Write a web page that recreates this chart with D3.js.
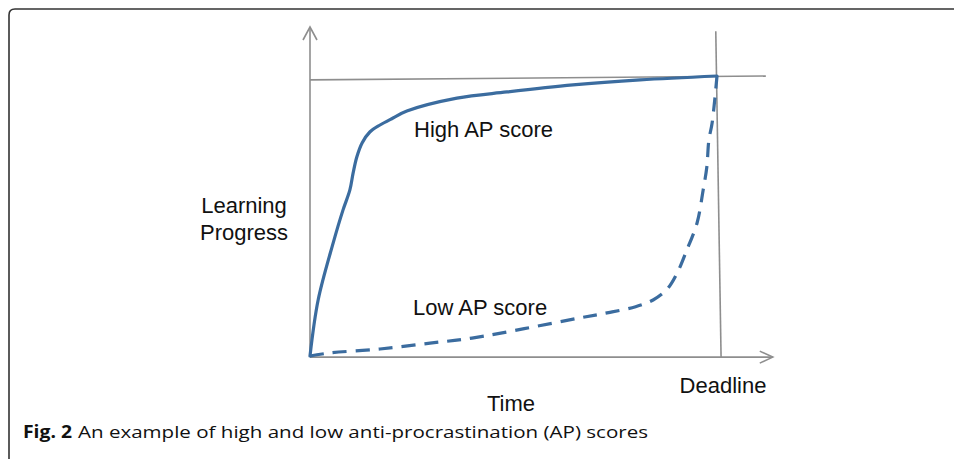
<!DOCTYPE html>
<html>
<head>
<meta charset="utf-8">
<script src="https://cdn.jsdelivr.net/npm/d3@7"></script>
<style>
html,body{margin:0;padding:0;background:#fff;}
svg{display:block;}
</style>
</head>
<body>
<svg id="chart" width="954" height="459"></svg>
<script>
// ---- data (normalized time 0..1 = start..deadline, progress 0..1) ----
const highTime     = [0, 0.020, 0.057, 0.081, 0.098, 0.106, 0.115, 0.128, 0.147, 0.172, 0.204, 0.238, 0.361, 0.484, 0.646, 0.811, 1.0];
const highProgress = [0, 0.200, 0.404, 0.521, 0.593, 0.654, 0.711, 0.761, 0.800, 0.825, 0.850, 0.875, 0.921, 0.943, 0.968, 0.986, 1.0];
const lowTime      = [0, 0.049, 0.172, 0.295, 0.398, 0.663, 0.737, 0.800, 0.843, 0.877, 0.902, 0.926, 0.951, 0.966, 0.975, 0.980, 0.988, 1.0];
const lowProgress  = [0, 0.011, 0.025, 0.046, 0.064, 0.136, 0.156, 0.176, 0.200, 0.238, 0.296, 0.379, 0.475, 0.593, 0.675, 0.771, 0.832, 1.0];
const seriesLabels = ["High AP score", "Low AP score"];
const yLabelLines  = ["Learning", "Progress"];
const xLabel       = "Time";
const deadlineLabel = "Deadline";
const captionBold  = "Fig. 2";
const captionText  = "An example of high and low anti-procrastination (AP) scores";

const svg = d3.select("#chart");
const x = d3.scaleLinear().domain([0, 1]).range([310, 717]);
const y = d3.scaleLinear().domain([0, 1]).range([356, 76]);

const axisColor = "#8e8e8e";
const lineColor = "#3b6c9f";
const font = "'Liberation Sans', Arial, sans-serif";

// frame border (rounded corner top-left)
svg.append("path")
  .attr("d", "M9,459 L9,15 Q9,9 15,9 L954,9")
  .attr("fill", "none").attr("stroke", "#333").attr("stroke-width", 1.6);

// guides
const g = svg.append("g").attr("stroke", axisColor).attr("stroke-width", 1.6).attr("fill", "none");
g.append("line").attr("x1", x(0)).attr("y1", y(-0.004)).attr("x2", x(0)).attr("y2", y(1.175));
g.append("path").attr("d", `M${x(0)-7},${y(1.175)+13} L${x(0)},${y(1.175)} L${x(0)+7},${y(1.175)+13}`);
g.append("line").attr("x1", x(0)).attr("y1", y(-0.004)).attr("x2", x(1.137)).attr("y2", y(-0.004));
g.append("path").attr("d", `M${x(1.137)-13},${y(-0.004)-6} L${x(1.137)},${y(-0.004)} L${x(1.137)-13},${y(-0.004)+6}`);
g.append("line").attr("x1", x(0)).attr("y1", y(0.986)).attr("x2", x(1.12)).attr("y2", y(1.0));
g.append("line").attr("x1", x(0.997)).attr("y1", y(1.16)).attr("x2", x(1.01)).attr("y2", y(-0.004));

// curves
const line = d3.line().x(d => x(d[0])).y(d => y(d[1])).curve(d3.curveCatmullRom.alpha(0.5));
const high = highTime.map((t, i) => [t, highProgress[i]]);
const low = lowTime.map((t, i) => [t, lowProgress[i]]);

svg.append("path").datum(low).attr("d", line)
  .attr("fill", "none").attr("stroke", lineColor).attr("stroke-width", 3.2)
  .attr("stroke-dasharray", "14,9");
svg.append("path").datum(high).attr("d", line)
  .attr("fill", "none").attr("stroke", lineColor).attr("stroke-width", 3.2)
  .attr("stroke-linecap", "round");

// labels
const txt = svg.append("g").attr("font-family", font).attr("font-size", 22).attr("fill", "#111");
txt.append("text").attr("x", 414).attr("y", 137).text(seriesLabels[0]);
txt.append("text").attr("x", 413).attr("y", 315).text(seriesLabels[1]);
txt.selectAll("text.yl").data(yLabelLines).join("text").attr("class", "yl")
  .attr("x", 244).attr("y", (d, i) => 213 + i * 27).attr("text-anchor", "middle").text(d => d);
txt.append("text").attr("x", 723).attr("y", 393).attr("text-anchor", "middle").text(deadlineLabel);
txt.append("text").attr("x", 511).attr("y", 411).attr("text-anchor", "middle").text(xLabel);

// caption
const cap = svg.append("g").attr("font-family", "'Open Sans', 'Noto Sans', sans-serif").attr("font-size", 17).attr("fill", "#111");
cap.append("text").attr("x", 23).attr("y", 438).attr("font-weight", "bold")
  .attr("textLength", 49).attr("lengthAdjust", "spacingAndGlyphs").text(captionBold);
cap.append("text").attr("x", 78).attr("y", 438)
  .attr("textLength", 570).attr("lengthAdjust", "spacingAndGlyphs").text(captionText);
</script>
</body>
</html>
